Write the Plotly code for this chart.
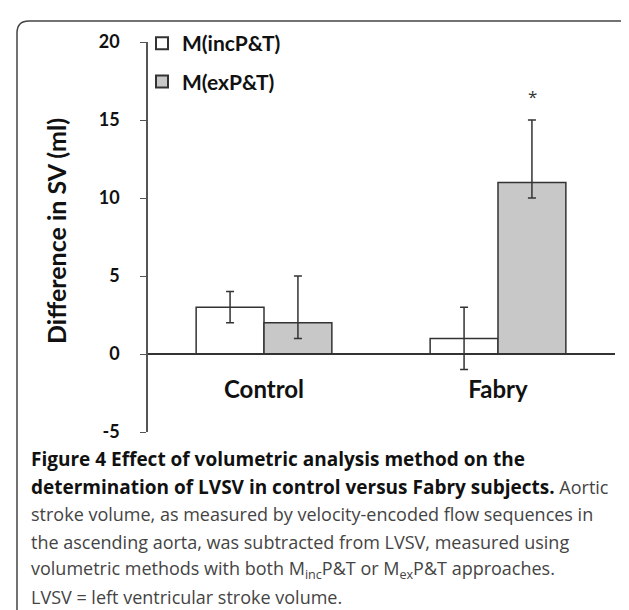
import plotly.graph_objects as go

# ---- data ----
categories = ["Control", "Fabry"]
series_names = ["M(incP&T)", "M(exP&T)"]
inc_values = [3, 1]
inc_err_plus = [1, 2]
inc_err_minus = [1, 2]
ex_values = [2, 11]
ex_err_plus = [3, 4]
ex_err_minus = [1, 1]
y_ticks = [-5, 0, 5, 10, 15, 20]
y_tick_labels = ["-5", "0", "5", "10", "15", "20"]
sig_category = "Fabry"
sig_value = 16.5
caption_lines = [
    "<span style='font-size:19px;color:#111'><b>Figure 4 Effect of volumetric analysis method on the</b></span>",
    "<span style='font-size:19px;color:#111'><b>determination of LVSV in control versus Fabry subjects.</b></span> Aortic",
    "stroke volume, as measured by velocity-encoded flow sequences in",
    "the ascending aorta, was subtracted from LVSV, measured using",
    "volumetric methods with both M<sub>inc</sub>P&T or M<sub>ex</sub>P&T approaches.",
    "LVSV = left ventricular stroke volume.",
]

W, H = 629, 610
L, R, T, B = 139, 22, 34, 186
PW, PH = W - L - R, H - T - B


def px_x(px):
    return (px - L) / PW


def px_y(py):
    return (H - B - py) / PH


AX = "#333333"
bold_font = "Lato"

fig = go.Figure()
fig.add_trace(go.Bar(
    x=categories, y=inc_values, name=series_names[0], legendgroup="a",
    marker=dict(color="white", line=dict(color=AX, width=1.5)),
    error_y=dict(type="data", symmetric=False, array=inc_err_plus,
                 arrayminus=inc_err_minus, color=AX, thickness=1.5, width=4),
))
fig.add_trace(go.Bar(
    x=categories, y=ex_values, name=series_names[1], legendgroup="b",
    marker=dict(color="#c8c8c8", line=dict(color=AX, width=1.5)),
    error_y=dict(type="data", symmetric=False, array=ex_err_plus,
                 arrayminus=ex_err_minus, color=AX, thickness=1.5, width=4),
))

fig.update_layout(
    width=W, height=H,
    margin=dict(l=L, r=R, t=T, b=B, pad=0),
    paper_bgcolor="white", plot_bgcolor="white",
    barmode="group", bargap=0.42, bargroupgap=0,
    showlegend=True,
    legend=dict(x=px_x(134), y=px_y(15), xanchor="left", yanchor="top",
                bgcolor="rgba(0,0,0,0)", tracegroupgap=8,
                font=dict(family=bold_font, size=21, color="#111", weight="bold"),
                itemsizing="constant"),
    xaxis=dict(
        type="category", range=[-0.5, 1.5], anchor="free", position=0.2,
        showline=True, linecolor=AX, linewidth=1.5, ticks="",
        showgrid=False, zeroline=False, ticklabelstandoff=14,
        tickfont=dict(family=bold_font, size=24, color="#111", weight="bold"),
    ),
    yaxis=dict(
        range=[-5, 20], tickvals=y_ticks, ticktext=y_tick_labels,
        anchor="free", position=0,
        showline=True, linecolor="#555", linewidth=1.5,
        ticks="outside", ticklen=6, tickcolor="#555", tickwidth=1.2,
        showgrid=False, zeroline=False, ticklabelstandoff=17,
        tickfont=dict(family=bold_font, size=18, color="#111", weight="bold"),
    ),
)

# y-axis title
fig.add_annotation(
    text="<b>Difference in SV (ml)</b>", xref="paper", yref="paper",
    x=px_x(48), y=px_y(223), textangle=-90, showarrow=False,
    xanchor="center", yanchor="middle",
    font=dict(family=bold_font, size=25, color="#111"),
)

# significance marker above Fabry M(exP&T)
fig.add_annotation(
    text="*", x=sig_category, y=sig_value, xref="x", yref="y",
    xshift=34, showarrow=False, font=dict(family="Open Sans", size=17, color=AX),
)

# caption
cap_y = [451, 478.5, 506, 533.5, 561, 589]
for line, cy in zip(caption_lines, cap_y):
    fig.add_annotation(
        text=line, xref="paper", yref="paper", x=px_x(21), y=px_y(cy),
        xanchor="left", yanchor="middle", showarrow=False, align="left",
        font=dict(family="Open Sans", size=18, color="#444"),
    )

# rounded frame
x0, x1, y0, y1, r = px_x(9), px_x(627), px_y(13), px_y(640), 12
rx, ry = r / PW, r / PH
path = (f"M {x0},{y1} L {x0},{y0 - ry} Q {x0},{y0} {x0 + rx},{y0} "
        f"L {x1 - rx},{y0} Q {x1},{y0} {x1},{y0 - ry} L {x1},{y1}")
fig.add_shape(type="path", path=path, xref="paper", yref="paper",
              line=dict(color="#444", width=1.5), layer="below")

fig.write_html("out.html")
